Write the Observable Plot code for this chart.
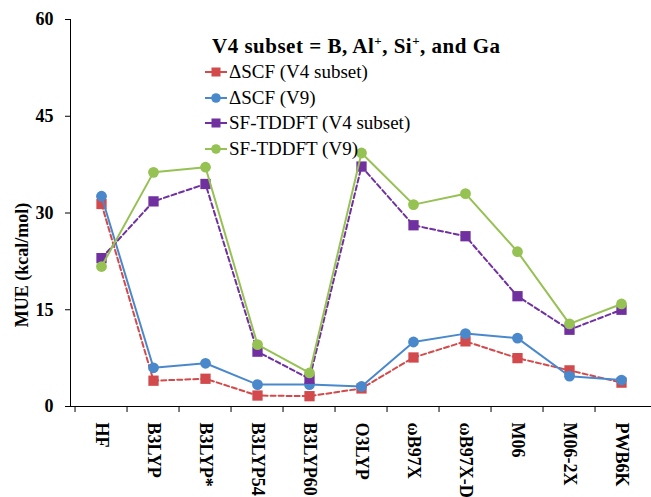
<!DOCTYPE html>
<html><head><meta charset="utf-8">
<script src="https://cdn.jsdelivr.net/npm/d3@7"></script>
<script src="https://cdn.jsdelivr.net/npm/@observablehq/plot@0.6"></script>
<style>
body{margin:0;background:#fff;}
#wrap{position:relative;width:651px;height:497px;overflow:hidden;font-family:"Liberation Serif","Times New Roman",serif;color:#000;}
#chart{position:absolute;left:0;top:0;}
#title{position:absolute;left:212px;top:34px;font-family:"Liberation Serif","Times New Roman",serif;font-weight:bold;font-size:21px;line-height:24px;letter-spacing:0.5px;white-space:nowrap;}
#title sup{font-size:13px;vertical-align:8px;line-height:0;}
.leg{position:absolute;left:205px;height:20px;line-height:20px;font-family:"Liberation Serif","Times New Roman",serif;font-weight:normal;font-size:19px;display:flex;align-items:center;white-space:nowrap;}
.leg svg{margin-right:2px;}
#ylab{position:absolute;left:22px;top:265px;font-family:"Liberation Serif","Times New Roman",serif;font-weight:bold;font-size:18px;white-space:nowrap;transform:translate(-50%,-50%) rotate(-90deg);}
</style>
</head><body>
<div id="wrap">
  <div id="chart"></div>
  <div id="title">V4 subset = B, Al<sup>+</sup>, Si<sup>+</sup>, and Ga</div>
  <div id="legend"></div>
  <div id="ylab">MUE (kcal/mol)</div>
</div>
<script>
const categories = ["HF","B3LYP","B3LYP*","B3LYP54","B3LYP60","O3LYP","ωB97X","ωB97X-D","M06","M06-2X","PWB6K"];
const seriesNames = ["ΔSCF (V4 subset)","ΔSCF (V9)","SF-TDDFT (V4 subset)","SF-TDDFT (V9)"];
const dscfV4 = [31.4,4.0,4.3,1.7,1.6,2.8,7.6,10.1,7.5,5.6,3.7];
const dscfV9 = [32.6,6.0,6.7,3.4,3.4,3.1,10.0,11.3,10.6,4.7,4.1];
const sfV4   = [23.0,31.8,34.5,8.5,4.3,37.2,28.1,26.4,17.1,11.9,15.0];
const sfV9   = [21.7,36.3,37.1,9.6,5.2,39.3,31.3,33.0,24.0,12.8,15.9];
const yTicks = [0,15,30,45,60];

const colors = ["#D24A4B","#4A88CC","#7030A0","#96C153"];
const symbols = ["square","circle","square","circle"];
const dashes = ["5,3",null,"5,3",null];
const values = [dscfV4, dscfV9, sfV4, sfV9];

const xRange = [70, 652];
const bw = (xRange[1]-xRange[0])/categories.length;

const marks = [
  Plot.axisY({ticks: yTicks, tickSize: 5, tickPadding: 12, label: null, fontSize: 18}),
  Plot.axisX({tickSize: 0, tickPadding: 16, tickRotate: 90, label: null, fontSize: 18}),
  Plot.axisX({tickSize: 6, tickFormat: () => "", dx: -bw/2, label: null}),
  Plot.frame({anchor: "left", stroke: "#000"}),
  Plot.frame({anchor: "bottom", stroke: "#000"})
];
values.forEach((vals, i) => {
  const rows = categories.map((c, j) => ({method: c, value: vals[j]}));
  marks.push(Plot.line(rows, {x: "method", y: "value", stroke: colors[i], strokeWidth: 2, strokeDasharray: dashes[i] || undefined}));
  marks.push(Plot.dot(rows, {x: "method", y: "value", fill: colors[i], symbol: symbols[i], r: symbols[i] === "square" ? 5.8 : 5.4, stroke: "none"}));
});

const chart = Plot.plot({
  width: 651, height: 497,
  marginLeft: 70, marginRight: 0, marginTop: 19, marginBottom: 91,
  style: {fontFamily: "'Liberation Serif', 'Times New Roman', serif", fontWeight: "bold", color: "#000", background: "transparent", overflow: "visible"},
  x: {type: "band", domain: categories, range: xRange, padding: 0},
  y: {domain: [0, 60], range: [406, 19]},
  marks
});
document.getElementById("chart").appendChild(chart);

const legend = document.getElementById("legend");
const rowsY = [72, 97.5, 123, 149];
seriesNames.forEach((name, i) => {
  const d = document.createElement("div");
  d.className = "leg";
  d.style.top = (rowsY[i] - 10) + "px";
  const mk = symbols[i] === "square"
    ? `<rect x="6.5" y="1.5" width="9" height="9" fill="${colors[i]}"/>`
    : `<circle cx="11" cy="6" r="4.8" fill="${colors[i]}"/>`;
  d.innerHTML = `<svg width="22" height="12"><line x1="0" x2="22" y1="6" y2="6" stroke="${colors[i]}" stroke-width="2"/>${mk}</svg><span>${name}</span>`;
  legend.appendChild(d);
});
</script>
</body></html>
